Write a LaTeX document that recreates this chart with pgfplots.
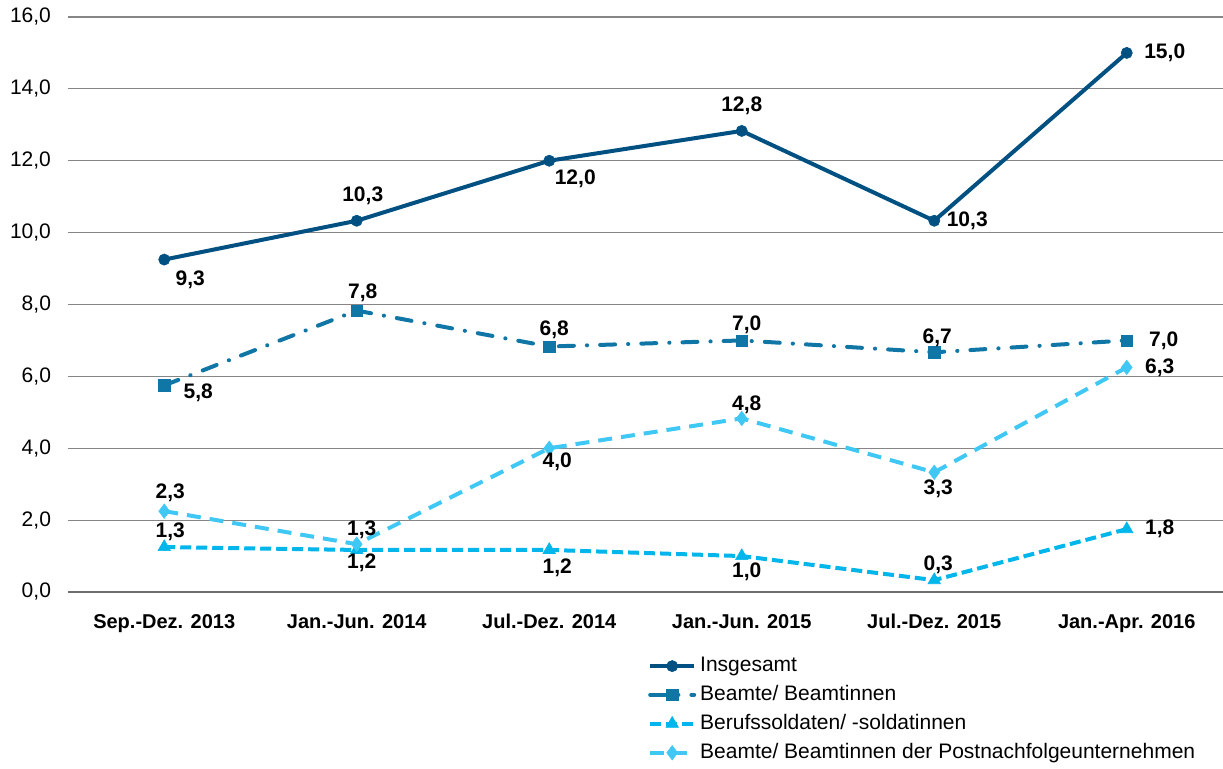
\documentclass[border=0pt]{standalone}
\usepackage{fontspec}
\setmainfont{Liberation Sans}
\usepackage{pgfplots}
\usepackage{pgfplotstable}
\pgfplotsset{compat=1.18}
\definecolor{cIns}{RGB}{0,80,130}
\definecolor{cBea}{RGB}{16,118,166}
\definecolor{cBer}{RGB}{0,182,235}
\definecolor{cPos}{RGB}{64,200,245}
\definecolor{cGrid}{RGB}{134,134,134}

\pgfplotstableread{
x y lab dx dy
0 9.25 9,3 13 -10
1 10.33 10,3 3 12.5
2 12.0 12,0 13 -9
3 12.83 12,8 0 12.5
4 10.33 10,3 16.5 0
5 15.0 15,0 19 0
}\insgesamt
\pgfplotstableread{
x y lab dx dy
0 5.75 5,8 17 -3.5
1 7.83 7,8 3 9
2 6.83 6,8 2.5 8.5
3 7.0 7,0 2.5 8
4 6.67 6,7 1.5 7
5 7.0 7,0 18.5 0
}\beamte
\pgfplotstableread{
x y lab dx dy
0 1.25 1,3 3 7.5
1 1.17 1,2 2.5 -6.5
2 1.17 1,2 4 -9
3 1.0 1,0 2.5 -8
4 0.33 0,3 2 7.5
5 1.75 1,8 16.5 0
}\berufs
\pgfplotstableread{
x y lab dx dy
0 2.25 2,3 3 9
1 1.33 1,3 2.5 7
2 4.0 4,0 4 -7
3 4.83 4,8 2.5 7
4 3.33 3,3 2 -8
5 6.25 6,3 16.5 0
}\post

\pgfplotsset{
  lbl/.style={
    nodes near coords,
    point meta=explicit symbolic,
    visualization depends on={\thisrow{dx} \as \dx},
    visualization depends on={\thisrow{dy} \as \dy},
    nodes near coords style={font=\bfseries\fontsize{10.5}{12}\selectfont, text=black,
      anchor=center, inner sep=0pt, xshift=\dx pt, yshift=\dy pt},
  },
}

\begin{document}
\begin{tikzpicture}
\path[use as bounding box] (-34pt,-88.5pt) rectangle (577.5pt,296pt);
\begin{axis}[
  scale only axis,
  width=577.5pt, height=287.5pt,
  xmin=-0.5, xmax=5.5, ymin=0, ymax=16,
  xtick={0,1,2,3,4,5},
  xticklabels={Sep.-Dez. 2013, Jan.-Jun. 2014, Jul.-Dez. 2014, Jan.-Jun. 2015, Jul.-Dez. 2015, Jan.-Apr. 2016},
  xticklabel style={font=\bfseries\fontsize{10}{12}\selectfont, yshift=-7.5pt},
  ytick={0,2,...,16},
  yticklabel style={font=\fontsize{10.5}{12}\selectfont, anchor=east, xshift=-5pt},
  /pgf/number format/assume math mode=true,
  yticklabel={\pgfmathprintnumber[fixed, fixed zerofill, precision=1, use comma]{\tick}},
  major tick length=0pt,
  ymajorgrids,
  grid style={cGrid, line width=0.6pt},
  axis x line*=bottom,
  axis y line*=left,
  y axis line style={draw=none},
  x axis line style={draw={rgb,255:red,110;green,110;blue,110}, line width=1.1pt, -},
  clip=false,
  legend style={at={(0.502,0)}, anchor=north west, yshift=-28.5pt, draw=none,
    font=\fontsize{10.5}{12}\selectfont, inner xsep=0pt, row sep=1.4pt,
    /tikz/every even column/.append style={column sep=0pt}},
  legend cell align=left,
  legend image code/.code={\draw[mark repeat=2,mark phase=2,#1] plot coordinates {(0pt,0pt)(11pt,0pt)(22pt,0pt)};},
]
\addplot[cIns, line width=2pt, mark=*, mark size=2.8pt, mark options={solid, line width=0.3pt}, lbl]
  table[x=x, y=y, meta=lab] {\insgesamt};
\addlegendentry{Insgesamt}
\addplot[cBea, line width=2pt, line cap=round, dash pattern=on 7.5pt off 6.5pt on 0.1pt off 6.5pt, mark=square*, mark size=2.8pt, mark options={solid, line width=0.3pt}, lbl]
  table[x=x, y=y, meta=lab] {\beamte};
\addlegendentry{Beamte/ Beamtinnen}
\addplot[cBer, line width=2pt, dash pattern=on 5.5pt off 2.5pt, mark=triangle*, mark size=3.6pt, mark options={solid, line width=0.3pt}, lbl]
  table[x=x, y=y, meta=lab] {\berufs};
\addlegendentry{Berufssoldaten/ -soldatinnen}
\addplot[cPos, line width=2pt, dash pattern=on 7pt off 4.5pt, mark=diamond*, mark size=3.6pt, mark options={solid, line width=0.3pt}, lbl]
  table[x=x, y=y, meta=lab] {\post};
\addlegendentry{Beamte/ Beamtinnen der Postnachfolgeunternehmen}
\end{axis}
\end{tikzpicture}
\end{document}
